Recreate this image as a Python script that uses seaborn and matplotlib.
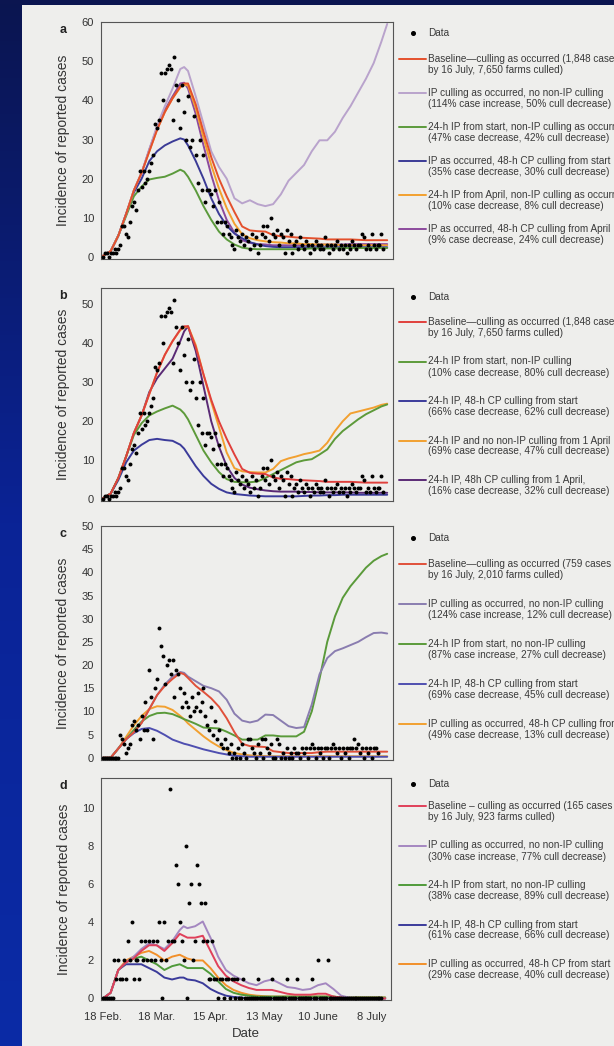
import numpy as np
import matplotlib
matplotlib.use("Agg")
import matplotlib.pyplot as plt
import seaborn as sns
from matplotlib.colors import LinearSegmentedColormap
from matplotlib.lines import Line2D
from matplotlib.patches import Rectangle

sns.set_theme(style="white")
plt.rcParams['font.family'] = ['Liberation Sans', 'DejaVu Sans']

W, H = 614, 1046

## dias desde el 18 de febrero (grilla de las curvas)
DIAS = [0, 4, 8, 12, 16, 20, 24, 28, 32, 36, 40, 42, 44, 48, 52, 56, 60, 64, 68, 72,
        76, 80, 84, 88, 92, 96, 100, 104, 108, 112, 116, 120, 124, 128, 132, 136, 140, 144, 147]
FECHAS = ['18 Feb.', '18 Mar.', '15 Apr.', '13 May', '10 June', '8 July']
POS_FECHAS = [0, 28, 56, 84, 112, 140]

## datos observados (un valor por dia)
DATOS_GB = [0, 1, 1, 0, 1, 1, 2, 1, 2, 3,
            8, 8, 6, 5, 9, 13, 14, 12, 17, 22,
            18, 22, 19, 20, 22, 24, 26, 34, 33, 35,
            47, 40, 47, 48, 49, 48, 35, 51, 44, 40,
            33, 44, 37, 30, 41, 28, 30, 36, 26, 19,
            30, 17, 26, 14, 17, 17, 16, 13, 17, 9,
            14, 9, 6, 9, 8, 6, 5, 3, 2, 7,
            5, 4, 6, 3, 5, 4, 2, 6, 3, 5,
            1, 3, 6, 8, 5, 8, 4, 10, 6, 5,
            7, 3, 6, 5, 1, 7, 4, 6, 1, 3,
            4, 2, 5, 3, 2, 4, 3, 1, 3, 2,
            4, 3, 2, 3, 2, 5, 3, 1, 3, 2,
            3, 4, 2, 3, 2, 3, 1, 3, 2, 4,
            3, 2, 3, 3, 6, 5, 2, 3, 2, 6,
            3, 2, 3, 3, 6, 2]
DATOS_C = [0, 0, 0, 0, 0, 0, 0, 0, 0, 5,
           4, 3, 1, 2, 3, 7, 8, 6, 7, 4,
           9, 6, 12, 6, 19, 13, 4, 15, 17, 28,
           24, 22, 16, 20, 21, 18, 21, 13, 19, 18,
           15, 11, 14, 12, 11, 9, 13, 10, 11, 14,
           10, 12, 15, 9, 7, 6, 11, 5, 8, 4,
           6, 3, 2, 4, 2, 1, 3, 0, 1, 0,
           2, 0, 3, 1, 0, 4, 4, 2, 1, 0,
           3, 1, 4, 0, 4, 2, 1, 3, 0, 0,
           4, 3, 0, 1, 0, 2, 0, 1, 0, 2,
           1, 1, 0, 2, 1, 2, 0, 2, 3, 2,
           0, 2, 1, 2, 0, 2, 2, 0, 2, 3,
           2, 1, 2, 0, 2, 1, 2, 0, 2, 2,
           4, 2, 3, 1, 2, 0, 2, 1, 2, 0,
           2, 2, 1]
DATOS_D = [0, 0, 0, 0, 0, 0, 2, 1, 2, 1,
           1, 2, 1, 3, 2, 4, 1, 2, 2, 1,
           3, 2, 3, 2, 3, 2, 3, 2, 3, 4,
           2, 0, 4, 2, 3, 11, 3, 3, 7, 6,
           4, 3, 2, 8, 0, 5, 6, 2, 3, 7,
           6, 5, 3, 5, 3, 1, 1, 3, 1, 1,
           0, 1, 1, 0, 1, 1, 0, 1, 1, 0,
           1, 0, 0, 1, 0, 0, 0, 0, 0, 0,
           0, 1, 0, 0, 0, 0, 0, 0, 1, 0,
           0, 0, 0, 0, 0, 0, 1, 0, 0, 0,
           0, 1, 0, 0, 0, 0, 0, 0, 0, 1,
           0, 0, 2, 0, 0, 0, 0, 2, 0, 0,
           0, 0, 0, 0, 0, 0, 0, 0, 0, 0,
           0, 0, 0, 0, 0, 0, 0, 0, 0, 0,
           0, 0, 0, 0, 0, 0]

## panel a / b (Gran Bretana)
BASE_GB = [0.3, 1.5, 5.5, 11, 17, 21.5, 27, 32.5, 37, 40.5, 43.5, 44.3, 44.3, 39, 32, 25.5, 20, 15.5, 11.5, 7.8,
           6.8, 6.6, 6.5, 5.6, 5.3, 5.2, 5, 4.9, 4.8, 4.7, 4.5, 4.5, 4.5, 4.5, 4.4, 4.3, 4.3, 4.3, 4.3]
A_IP_NO_NONIP = [0.3, 1.5, 5.5, 11, 17, 21.5, 27.5, 33.5, 38.5, 43, 48, 48.5, 47.5, 41, 34, 27, 23, 20, 15, 13.7,
                 14.5, 13.5, 13, 13.5, 16, 19.5, 21.5, 23.5, 27, 29.8, 29.8, 32, 35.5, 38.5, 42, 45.5, 49.5, 55, 59.5]
A_24H_START = [0.3, 1.5, 5.5, 10.5, 15.5, 18, 19.8, 20.2, 20.5, 21.3, 22.3, 21.8, 20.5, 17, 13, 9.5, 6.5, 4.5, 3.2, 2.4,
               2.1, 2, 2, 2, 2, 2, 2, 2.1, 2.2, 2.2, 2.2, 2.2, 2.3, 2.3, 2.3, 2.3, 2.3, 2.3, 2.3]
A_48H_CP_START = [0.3, 1.5, 5.5, 11, 16.5, 20, 24.5, 27, 28.5, 29.5, 30.3, 30, 28.5, 24.5, 20, 15, 11, 8, 6, 4.8,
                  3.8, 3.2, 2.8, 2.6, 2.5, 2.5, 2.5, 2.5, 2.5, 2.5, 2.5, 2.5, 2.5, 2.5, 2.5, 2.5, 2.5, 2.5, 2.5]
A_24H_APRIL = [0.3, 1.5, 5.5, 11, 17, 21.5, 27, 32.5, 37, 40.5, 43.3, 44, 43.8, 38, 30.5, 23.5, 17.5, 12.5, 8.5, 5.8,
               4.8, 4.3, 4, 3.8, 3.7, 3.5, 3.5, 3.3, 3.3, 3.2, 3.2, 3.2, 3, 3, 3, 3, 3, 3, 3]
A_48H_CP_APRIL = [0.3, 1.5, 5.5, 11, 17, 21.5, 27.5, 33, 37.5, 41, 44.3, 44.5, 43, 36.5, 28.5, 21, 14.5, 9.5, 6.2, 4.3,
                  3.6, 3.3, 3.2, 3, 3, 3, 3, 3.1, 3.1, 3.2, 3.2, 3.2, 3.2, 3.3, 3.3, 3.3, 3.3, 3.3, 3.3]

B_24H_START = [0.3, 1.5, 5.5, 11, 16.5, 19.5, 21.5, 22.5, 23.3, 24, 23, 22, 20.5, 16.5, 12.5, 9.5, 7, 5.2, 4.5, 4.4,
               4.4, 4.6, 5.5, 6.5, 7.5, 8.5, 9.5, 10, 10.3, 11.5, 12.8, 15.5, 17.5, 19, 20.5, 21.8, 22.8, 23.8, 24.3]
B_48H_CP_START = [0.3, 1.5, 5, 9.5, 12.5, 14, 15.2, 15.5, 15.2, 15, 14, 13, 11.5, 8.5, 6, 4, 2.7, 1.8, 1.4, 1.2,
                  1, 0.9, 0.8, 0.8, 0.8, 0.8, 0.8, 0.9, 1, 1, 1.1, 1.1, 1.2, 1.2, 1.2, 1.2, 1.2, 1.2, 1.2]
B_24H_APRIL = [0.3, 1.5, 5.5, 11, 17, 21.5, 27, 32.5, 37, 40.5, 43.3, 44, 44.3, 39.5, 32, 25, 18.5, 12, 8, 7.2,
               7, 6.9, 6.9, 7.8, 9.8, 10.5, 11, 11.6, 12, 12.5, 14.5, 17.5, 20, 22, 22.5, 23, 23.5, 24.2, 24.5]
B_48H_CP_APRIL = [0.3, 1.5, 5.5, 11, 17, 21.5, 27.5, 31, 33.5, 36, 40.5, 43, 44.3, 38, 29, 20, 13.5, 8.5, 5.5, 3.8,
                  3, 2.6, 2.3, 2.1, 2, 2, 2, 1.9, 1.9, 1.8, 1.8, 1.8, 1.8, 1.8, 1.7, 1.7, 1.7, 1.7, 1.7]

## panel c
C_BASE = [0, 0, 2, 4, 5.5, 7.5, 10.5, 13.5, 15.5, 17, 18.3, 18, 17.2, 15.5, 14.2, 12.8, 11, 8.5, 5.5, 3,
          2.5, 2.4, 2.3, 1.4, 1.2, 1, 1, 1, 1, 1.2, 1.3, 1.3, 1.3, 1.3, 1.3, 1.3, 1.3, 1.3, 1.3]
C_IP_NO_NONIP = [0, 0, 2, 4, 5.5, 7.5, 10.5, 13.5, 15.8, 17.5, 18.5, 18.3, 17.5, 16.5, 15.5, 15, 14.3, 12.5, 9.5, 8,
                 7.6, 8, 9.3, 9.2, 8, 6.8, 6.4, 6.6, 11.5, 18, 21.5, 23, 23.6, 24.3, 25, 26, 26.9, 27, 26.8]
C_24H_START = [0, 0, 2, 4, 6, 7.8, 9, 9.6, 9.7, 9.4, 8.7, 8.3, 8, 7.3, 6.5, 6.4, 6.3, 5.6, 4.8, 3.9,
               3.9, 3.9, 4.8, 4.8, 4.6, 4.6, 4.6, 5.6, 10, 17, 25, 30.5, 34.5, 37, 39, 41, 42.5, 43.5, 44]
C_48H_CP_START = [0, 0, 2, 4, 5.3, 6.2, 6.4, 5.8, 4.9, 3.9, 3.3, 3, 2.8, 2.3, 1.8, 1.4, 1, 0.7, 0.4, 0.3,
                  0.2, 0.2, 0.2, 0.2, 0.2, 0.2, 0.2, 0.2, 0.2, 0.2, 0.2, 0.2, 0.2, 0.2, 0.2, 0.2, 0.2, 0.2, 0.2]
C_IP_48H_CP = [0, 0, 2, 4.5, 7, 9, 10.5, 11.1, 11, 10.3, 9, 8.3, 7.4, 6, 4.6, 3.4, 2.4, 1.6, 1, 0.7,
               0.5, 0.4, 0.35, 0.3, 0.3, 0.3, 0.3, 0.3, 0.3, 0.3, 0.3, 0.3, 0.3, 0.3, 0.3, 0.3, 0.3, 0.3, 0.3]

## panel d
D_BASE = [0, 0.3, 1.5, 1.9, 2.1, 2.5, 2.8, 2.8, 2.5, 2.9, 3.4, 3.3, 3.2, 3.2, 3.3, 2.5, 1.7, 1.2, 0.9, 0.7,
          0.55, 0.45, 0.45, 0.45, 0.35, 0.25, 0.2, 0.2, 0.2, 0.25, 0.25, 0.1, 0.05, 0, 0, 0, 0, 0, 0]
D_IP_NO_NONIP = [0, 0.3, 1.5, 1.9, 2.2, 2.6, 2.9, 2.8, 2.6, 3, 3.6, 3.8, 3.7, 3.8, 4.05, 3.2, 2.2, 1.5, 1.2, 1,
                 0.8, 0.7, 0.9, 1, 0.8, 0.6, 0.55, 0.45, 0.5, 0.7, 0.8, 0.5, 0.15, 0.05, 0.03, 0, 0, 0, 0]
D_24H_START = [0, 0.3, 1.5, 1.9, 2.1, 2.2, 2, 1.8, 1.5, 1.7, 1.8, 1.7, 1.6, 1.6, 1.6, 1.3, 0.9, 0.5, 0.3, 0.2,
               0.15, 0.1, 0.1, 0.1, 0.1, 0.1, 0.1, 0.1, 0.1, 0.1, 0.1, 0.1, 0.05, 0.05, 0.05, 0.05, 0.05, 0.05, 0.05]
D_48H_CP_START = [0, 0.3, 1.5, 1.8, 1.8, 1.8, 1.6, 1.4, 1.1, 1, 1.1, 1.1, 1, 0.95, 0.8, 0.5, 0.3, 0.15, 0.08, 0.05,
                  0, 0, 0, 0, 0, 0, 0, 0, 0, 0, 0, 0, 0, 0, 0, 0, 0, 0, 0]
D_IP_48H_CP = [0, 0.3, 1.5, 2, 2.2, 2.4, 2.5, 2.3, 2, 2.2, 2.3, 2.2, 2.1, 2, 2, 1.6, 1.1, 0.7, 0.45, 0.3,
               0.2, 0.15, 0.12, 0.1, 0.1, 0.1, 0.1, 0.1, 0.1, 0.1, 0.1, 0.1, 0.05, 0.05, 0.05, 0.05, 0.05, 0.05, 0.05]

## textos de las leyendas
LEY_A = ["Baseline\u2014culling as occurred (1,848 cases\nby 16 July, 7,650 farms culled)",
         "IP culling as occurred, no non-IP culling\n(114% case increase, 50% cull decrease)",
         "24-h IP from start, non-IP culling as occurred\n(47% case decrease, 42% cull decrease)",
         "IP as occurred, 48-h CP culling from start\n(35% case decrease, 30% cull decrease)",
         "24-h IP from April, non-IP culling as occurred\n(10% case decrease, 8% cull decrease)",
         "IP as occurred, 48-h CP culling from April\n(9% case decrease, 24% cull decrease)"]
LEY_B = ["Baseline\u2014culling as occurred (1,848 cases\nby 16 July, 7,650 farms culled)",
         "24-h IP from start, non-IP culling\n(10% case decrease, 80% cull decrease)",
         "24-h IP, 48-h CP culling from start\n(66% case decrease, 62% cull decrease)",
         "24-h IP and no non-IP culling from 1 April\n(69% case decrease, 47% cull decrease)",
         "24-h IP, 48h CP culling from 1 April,\n(16% case decrease, 32% cull decrease)"]
LEY_C = ["Baseline\u2014culling as occurred (759 cases\nby 16 July, 2,010 farms culled)",
         "IP culling as occurred, no non-IP culling\n(124% case increase, 12% cull decrease)",
         "24-h IP from start, no non-IP culling\n(87% case increase, 27% cull decrease)",
         "24-h IP, 48-h CP culling from start\n(69% case decrease, 45% cull decrease)",
         "IP culling as occurred, 48-h CP culling from start\n(49% case decrease, 13% cull decrease)"]
LEY_D = ["Baseline \u2013 culling as occurred (165 cases\nby 16 July, 923 farms culled)",
         "IP culling as occurred, no non-IP culling\n(30% case increase, 77% cull decrease)",
         "24-h IP from start, no non-IP culling\n(38% case decrease, 89% cull decrease)",
         "24-h IP, 48-h CP culling from start\n(61% case decrease, 66% cull decrease)",
         "IP culling as occurred, 48-h CP from start\n(29% case decrease, 40% cull decrease)"]


def fx(x):
    return x / W


def fy(y):
    return 1 - y / H


def panel(fig, caja, curvas, datos, ylim, yticks, letra, leyenda, y_ley, paso, con_fechas=False):
    izq, der, arr, aba = caja
    ax = fig.add_axes([fx(izq), fy(aba), (der - izq) / W, (aba - arr) / H])
    ax.set_facecolor('none')
    for valores, color in curvas:
        sns.lineplot(x=DIAS, y=valores, color=color, lw=1.4, ax=ax, zorder=2)
    sns.scatterplot(x=list(range(len(datos))), y=datos, color='black', s=8, linewidth=0, ax=ax, zorder=3)
    ax.set_xlim(-1, 150)
    ax.set_ylim(*ylim)
    ax.set_yticks(yticks)
    ax.set_xticks(POS_FECHAS)
    if con_fechas:
        ax.set_xticklabels(FECHAS)
        ax.set_xlabel('Date', fontsize=9.5, color='#333333', labelpad=4)
        ax.tick_params(axis='x', pad=6)
    else:
        ax.set_xticklabels([])
    ax.set_ylabel('Incidence of reported cases', fontsize=10, color='#333333')
    ax.yaxis.set_label_coords(-0.105, 0.5)
    ax.tick_params(axis='both', direction='out', length=3, width=0.7, colors='#555555',
                   labelcolor='#333333', labelsize=8)
    ax.tick_params(axis='y', pad=2)
    for s in ax.spines.values():
        s.set_color('#555555')
        s.set_linewidth(0.8)
    fig.text(fx(63), fy(arr + 8), letra, fontsize=9, fontweight='bold', color='#222222',
             ha='center', va='center')

    ## leyenda a mano (el texto se corta en el borde derecho, como en el original)
    fig.add_artist(Line2D([fx(413)], [fy(y_ley[0])], marker='o', markersize=2.6, color='black', lw=0))
    fig.text(fx(428), fy(y_ley[0]), 'Data', fontsize=7.2, color='#3a3a3a', va='center')
    for i, (texto, (valores, color)) in enumerate(zip(leyenda, curvas[::-1])):
        y = y_ley[1] + i * paso
        fig.add_artist(Line2D([fx(399), fx(426)], [fy(y), fy(y)], color=color, lw=1.4))
        l1, l2 = texto.split('\n')
        fig.text(fx(428), fy(y), l1, fontsize=7.2, color='#3a3a3a', va='center')
        fig.text(fx(428), fy(y + 11), l2, fontsize=7.2, color='#3a3a3a', va='center')
    return ax


fig = plt.figure(figsize=(W / 100, H / 100), dpi=100)

## fondo azul y papel
bg = fig.add_axes([0, 0, 1, 1])
azul = LinearSegmentedColormap.from_list('azul', ['#0b1550', '#0a2396', '#0a2ba6'])
bg.imshow(np.linspace(0, 1, 256).reshape(-1, 1), cmap=azul, aspect='auto', extent=[0, 1, 0, 1])
bg.add_patch(Rectangle((fx(22), 0), 1, fy(5), color='#eeeeec', lw=0))
bg.set_xlim(0, 1)
bg.set_ylim(0, 1)
bg.axis('off')

## orden de dibujo: la ultima curva queda encima (leyenda en orden inverso)
panel(fig, (101, 393, 22, 259),
      [(A_48H_CP_APRIL, '#8c4a9c'), (A_24H_APRIL, '#f3a02e'), (A_48H_CP_START, '#3b3b96'),
       (A_24H_START, '#5b9a3c'), (A_IP_NO_NONIP, '#b9a3cc'), (BASE_GB, '#e4502c')],
      DATOS_GB, (-0.5, 60), range(0, 61, 10), 'a', LEY_A, (33, 59), 34)
panel(fig, (101, 393, 288, 501),
      [(B_48H_CP_APRIL, '#5a2a75'), (B_24H_APRIL, '#f2a030'), (B_48H_CP_START, '#3b3b9a'),
       (B_24H_START, '#5d9a3a'), (BASE_GB, '#e0403c')],
      DATOS_GB, (-0.4, 54.1), range(0, 51, 10), 'b', LEY_B, (297, 322), 39.5)
panel(fig, (101, 393, 526, 760),
      [(C_IP_48H_CP, '#f2a030'), (C_48H_CP_START, '#4f4fb0'), (C_24H_START, '#5a9a3a'),
       (C_IP_NO_NONIP, '#8a7db0'), (C_BASE, '#e0503a')],
      DATOS_C, (-0.5, 50), range(0, 51, 5), 'c', LEY_C, (538, 564), 40)
panel(fig, (101, 391, 778, 1000),
      [(D_IP_48H_CP, '#f2902a'), (D_48H_CP_START, '#3b3b9a'), (D_24H_START, '#4f9a3a'),
       (D_IP_NO_NONIP, '#a487c0'), (D_BASE, '#e0405a')],
      DATOS_D, (-0.08, 11.6), range(0, 11, 2), 'd', LEY_D, (784, 806), 39.5, con_fechas=True)

fig.savefig('out.png', dpi=100)
